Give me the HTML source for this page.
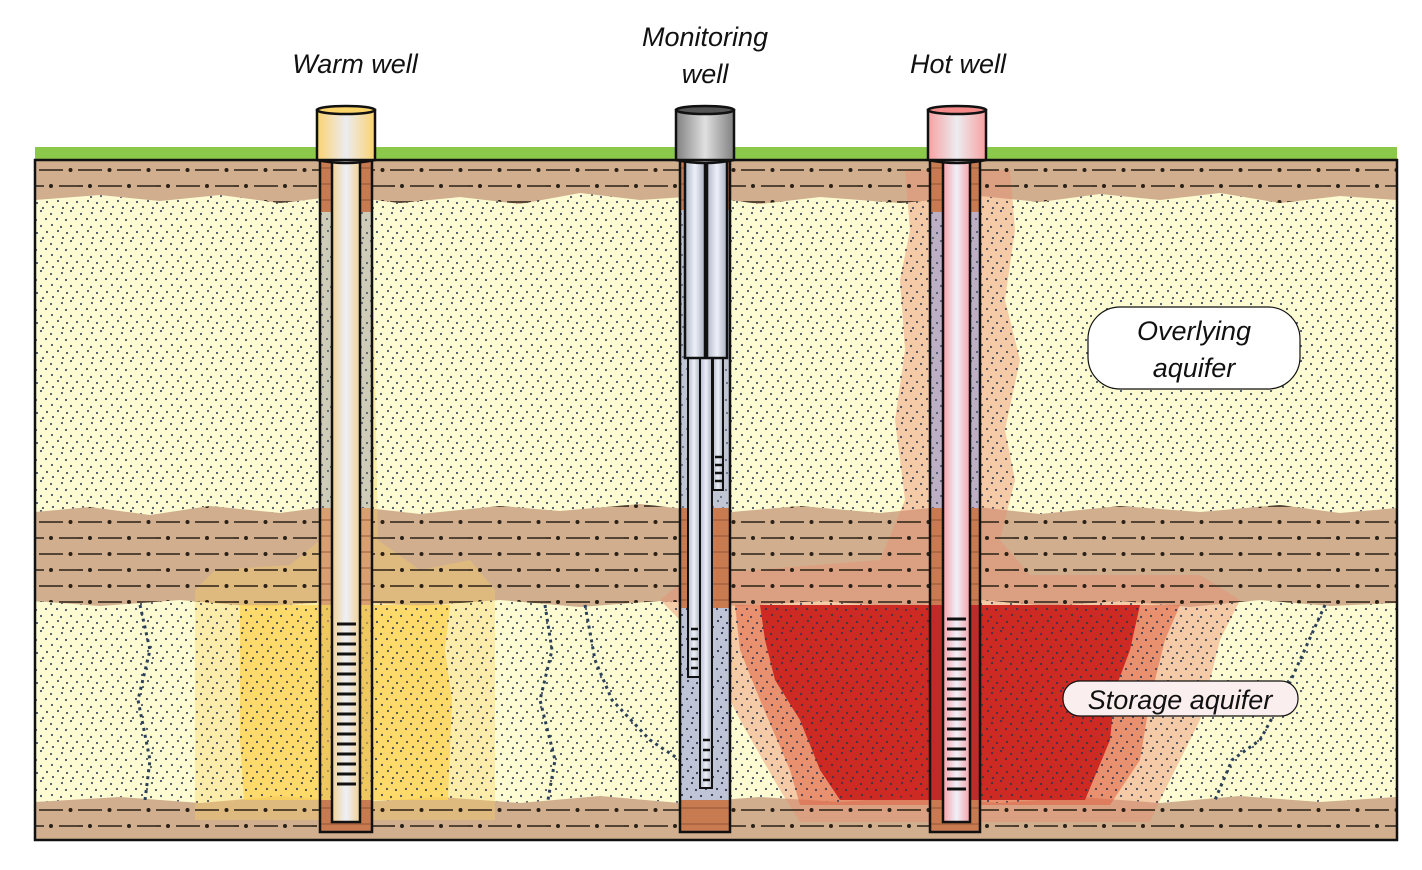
<!DOCTYPE html>
<html><head><meta charset="utf-8"><style>
html,body{margin:0;padding:0;background:#fff;}
svg{display:block;}
text{font-family:"Liberation Sans",sans-serif;font-style:italic;fill:#111;}
</style></head><body>
<svg width="1422" height="870" viewBox="0 0 1422 870" xmlns="http://www.w3.org/2000/svg">
<defs>
<pattern id="dots" width="30" height="30" patternUnits="userSpaceOnUse">
<g fill="#2a3550">
<circle cx="2" cy="3" r="1.1"/><circle cx="11" cy="1" r="1.1"/><circle cx="21" cy="4" r="1.1"/><circle cx="27" cy="9" r="1.1"/>
<circle cx="6" cy="10" r="1.1"/><circle cx="16" cy="9" r="1.1"/><circle cx="1" cy="17" r="1.1"/><circle cx="11" cy="16" r="1.1"/>
<circle cx="22" cy="15" r="1.1"/><circle cx="28" cy="21" r="1.1"/><circle cx="7" cy="23" r="1.1"/><circle cx="17" cy="22" r="1.1"/>
<circle cx="3" cy="28" r="1.1"/><circle cx="13" cy="28" r="1.1"/><circle cx="23" cy="27" r="1.1"/>
</g>
</pattern>
<pattern id="clay" width="78" height="32" patternUnits="userSpaceOnUse">
<g stroke="#2a2016" stroke-width="1.6">
<line x1="0" y1="10" x2="24" y2="10"/><line x1="39" y1="10" x2="63" y2="10"/>
<line x1="20" y1="26" x2="44" y2="26"/><line x1="59" y1="26" x2="78" y2="26"/><line x1="0" y1="26" x2="5" y2="26"/>
</g>
<g fill="#2a2016"><circle cx="31.5" cy="10" r="2"/><circle cx="70.5" cy="10" r="2"/><circle cx="12" cy="26" r="2"/><circle cx="51" cy="26" r="2"/></g>
</pattern>
<pattern id="bore" width="50" height="16" patternUnits="userSpaceOnUse">
<line x1="0" y1="8" x2="50" y2="8" stroke="#7a4a2a" stroke-width="0.8"/>
</pattern>
<linearGradient id="pipeW" x1="0" x2="1"><stop offset="0" stop-color="#f0d090"/><stop offset="0.5" stop-color="#eef0f8"/><stop offset="1" stop-color="#f0d090"/></linearGradient>
<linearGradient id="capW" x1="0" x2="1"><stop offset="0" stop-color="#fbd270"/><stop offset="0.5" stop-color="#ececf0"/><stop offset="1" stop-color="#fbd270"/></linearGradient>
<linearGradient id="pipeH" x1="0" x2="1"><stop offset="0" stop-color="#f5a0a8"/><stop offset="0.5" stop-color="#f0f0f8"/><stop offset="1" stop-color="#f5a0a8"/></linearGradient>
<linearGradient id="capH" x1="0" x2="1"><stop offset="0" stop-color="#f8a0a0"/><stop offset="0.5" stop-color="#ececf0"/><stop offset="1" stop-color="#f8a0a0"/></linearGradient>
<linearGradient id="pipeM" x1="0" x2="1"><stop offset="0" stop-color="#b0b8c8"/><stop offset="0.5" stop-color="#eef0f8"/><stop offset="1" stop-color="#a8b0c0"/></linearGradient>
<linearGradient id="capM" x1="0" x2="1"><stop offset="0" stop-color="#808080"/><stop offset="0.5" stop-color="#e0e0e0"/><stop offset="1" stop-color="#808080"/></linearGradient>
<path id="c1" d="M35 160 H1397 V200 L1340 196 1280 203 1220 193 1160 200 1100 194 1040 202 980 196 900 203 820 197 760 204 700 196 640 200 580 193 520 204 460 197 400 203 340 196 280 203 220 195 160 201 100 195 35 200 Z"/>
<path id="c2" d="M35 512 L90 507 150 515 210 506 280 513 340 505 420 514 500 506 560 511 640 504 720 513 800 506 880 513 960 505 1040 514 1120 506 1200 512 1280 505 1340 513 1397 508 V603 L1330 606 1260 600 1190 607 1120 601 1050 606 980 600 900 607 820 601 740 606 660 601 580 607 500 600 420 606 340 601 260 607 180 600 100 606 35 601 Z"/>
<path id="c3" d="M35 802 L120 797 200 803 280 796 360 802 440 797 520 803 600 796 680 803 760 797 840 802 920 796 1000 803 1080 797 1160 803 1240 796 1320 802 1397 797 V840 H35 Z"/>
<mask id="sandM"><rect x="0" y="0" width="1422" height="870" fill="#fff"/><use href="#c1" fill="#000"/><use href="#c2" fill="#000"/><use href="#c3" fill="#000"/></mask>
<mask id="clayM"><rect x="0" y="0" width="1422" height="870" fill="#000"/><use href="#c1" fill="#fff"/><use href="#c2" fill="#fff"/><use href="#c3" fill="#fff"/></mask>
</defs>

<rect x="35" y="147" width="1362" height="13" fill="#8cc84a"/>
<rect x="35" y="160" width="1362" height="680" fill="#fdfbd2"/>
<use href="#c1" fill="#d0ae8e"/><use href="#c2" fill="#d0ae8e"/><use href="#c3" fill="#d0ae8e"/>

<path d="M195 590 L215 570 290 565 320 540 322 200 372 200 378 540 420 570 470 560 495 590 495 820 195 820 Z" fill="#f8d060" opacity="0.35"/>
<path d="M240 605 L450 605 445 650 452 700 448 800 244 800 240 740 Z" fill="#fdd65a" opacity="0.8"/>

<path d="M905 170 L1010 170 1015 230 1005 300 1020 360 1005 430 1015 480 1000 540 1030 575 1200 575 1240 600 1220 640 1200 720 1160 800 1150 822 800 822 780 790 740 720 700 640 660 600 690 575 880 560 905 500 895 420 905 350 900 280 910 230 Z" fill="#e89070" opacity="0.45"/>
<path d="M735 605 L1180 605 1165 640 1150 700 1140 760 1110 805 800 805 790 770 760 700 740 650 Z" fill="#e06040" opacity="0.55"/>
<path d="M760 605 L1140 605 1130 650 1115 690 1110 740 1085 800 840 800 820 770 800 720 775 680 765 640 Z" fill="#cc2a22"/>

<rect x="35" y="160" width="1362" height="680" fill="url(#dots)" opacity="0.85" mask="url(#sandM)"/>
<g mask="url(#clayM)"><rect x="35" y="160" width="1362" height="680" fill="url(#clay)"/></g>

<g fill="none" stroke="#2c4058" stroke-width="3" stroke-dasharray="3 4">
<path d="M140 605 L150 650 138 700 150 760 145 800"/>
<path d="M545 605 L552 650 540 700 555 760 548 800"/>
<path d="M585 605 L595 660 612 700 650 740 680 760"/>
<path d="M1325 605 L1300 660 1282 700 1260 740 1232 760 1215 800"/>
</g>

<!-- WARM WELL -->
<rect x="320" y="160" width="52" height="672" fill="#c87a50"/>
<rect x="320" y="212" width="52" height="296" fill="#cfcdb8"/>
<rect x="320" y="212" width="52" height="296" fill="url(#dots)" opacity="0.7"/>
<rect x="320" y="508" width="52" height="97" fill="#d8a070"/>
<rect x="320" y="605" width="52" height="195" fill="#f0c860"/>
<rect x="320" y="605" width="52" height="195" fill="url(#dots)" opacity="0.4"/>
<rect x="320" y="160" width="52" height="52" fill="url(#bore)"/>
<rect x="320" y="508" width="52" height="97" fill="url(#bore)"/>
<rect x="320" y="800" width="52" height="32" fill="url(#bore)"/>
<rect x="320" y="160" width="52" height="672" fill="none" stroke="#111" stroke-width="2.5"/>
<rect x="332" y="160" width="28" height="662" fill="url(#pipeW)" stroke="#111" stroke-width="2.5"/>
<g stroke="#111" stroke-width="3">
<line x1="337" x2="356" y1="624" y2="624"/><line x1="337" x2="356" y1="634" y2="634"/><line x1="337" x2="356" y1="644" y2="644"/><line x1="337" x2="356" y1="654" y2="654"/><line x1="337" x2="356" y1="664" y2="664"/><line x1="337" x2="356" y1="674" y2="674"/><line x1="337" x2="356" y1="684" y2="684"/><line x1="337" x2="356" y1="694" y2="694"/><line x1="337" x2="356" y1="704" y2="704"/><line x1="337" x2="356" y1="714" y2="714"/><line x1="337" x2="356" y1="724" y2="724"/><line x1="337" x2="356" y1="734" y2="734"/><line x1="337" x2="356" y1="744" y2="744"/><line x1="337" x2="356" y1="754" y2="754"/><line x1="337" x2="356" y1="764" y2="764"/><line x1="337" x2="356" y1="774" y2="774"/><line x1="337" x2="356" y1="784" y2="784"/>
</g>
<path d="M317 110 V160 Q346 166 375 160 V110 Z" fill="url(#capW)" stroke="#111" stroke-width="2.5"/>
<ellipse cx="346" cy="110" rx="29" ry="4" fill="#fbd46a" stroke="#111" stroke-width="2.5"/>

<!-- MONITORING WELL -->
<rect x="680" y="160" width="50" height="672" fill="#c87a50"/>
<rect x="680" y="210" width="50" height="298" fill="#c0c6d4"/>
<rect x="680" y="608" width="50" height="192" fill="#bfc4d6"/>
<rect x="680" y="608" width="50" height="192" fill="url(#dots)"/>
<rect x="680" y="210" width="50" height="298" fill="url(#dots)" opacity="0.6"/>
<rect x="680" y="160" width="50" height="50" fill="url(#bore)"/>
<rect x="680" y="508" width="50" height="100" fill="url(#bore)"/>
<rect x="680" y="800" width="50" height="32" fill="url(#bore)"/>
<rect x="680" y="160" width="50" height="672" fill="none" stroke="#111" stroke-width="2.5"/>
<rect x="688" y="355" width="12" height="322" fill="url(#pipeM)" stroke="#111" stroke-width="2"/>
<rect x="700" y="355" width="12" height="433" fill="url(#pipeM)" stroke="#111" stroke-width="2"/>
<rect x="713" y="355" width="10" height="135" fill="url(#pipeM)" stroke="#111" stroke-width="2"/>
<rect x="685" y="160" width="20" height="198" fill="url(#pipeM)" stroke="#111" stroke-width="2.5"/>
<rect x="707" y="160" width="20" height="198" fill="url(#pipeM)" stroke="#111" stroke-width="2.5"/>
<g stroke="#111" stroke-width="2.5">
<line x1="715" x2="722" y1="457" y2="457"/><line x1="715" x2="722" y1="465" y2="465"/><line x1="715" x2="722" y1="473" y2="473"/><line x1="715" x2="722" y1="481" y2="481"/>
<line x1="691" x2="698" y1="629" y2="629"/><line x1="691" x2="698" y1="639" y2="639"/><line x1="691" x2="698" y1="649" y2="649"/><line x1="691" x2="698" y1="659" y2="659"/><line x1="691" x2="698" y1="668" y2="668"/>
<line x1="703" x2="710" y1="740" y2="740"/><line x1="703" x2="710" y1="750" y2="750"/><line x1="703" x2="710" y1="760" y2="760"/><line x1="703" x2="710" y1="770" y2="770"/><line x1="703" x2="710" y1="780" y2="780"/>
</g>
<path d="M676 110 V160 Q705 166 734 160 V110 Z" fill="url(#capM)" stroke="#111" stroke-width="2.5"/>
<ellipse cx="705" cy="110" rx="29" ry="4" fill="#555" stroke="#111" stroke-width="2.5"/>

<!-- HOT WELL -->
<rect x="930" y="160" width="50" height="672" fill="#c87a50"/>
<rect x="930" y="212" width="50" height="296" fill="#bdb0c4"/>
<rect x="930" y="212" width="50" height="296" fill="url(#dots)" opacity="0.7"/>
<rect x="930" y="605" width="50" height="195" fill="#c02a28"/>
<rect x="930" y="160" width="50" height="52" fill="url(#bore)"/>
<rect x="930" y="508" width="50" height="97" fill="url(#bore)"/>
<rect x="930" y="800" width="50" height="32" fill="url(#bore)"/>
<rect x="930" y="160" width="50" height="672" fill="none" stroke="#111" stroke-width="2.5"/>
<rect x="943" y="160" width="27" height="662" fill="url(#pipeH)" stroke="#111" stroke-width="2.5"/>
<g stroke="#111" stroke-width="3">
<line x1="947" x2="966" y1="619" y2="619"/><line x1="947" x2="966" y1="629" y2="629"/><line x1="947" x2="966" y1="639" y2="639"/><line x1="947" x2="966" y1="649" y2="649"/><line x1="947" x2="966" y1="659" y2="659"/><line x1="947" x2="966" y1="669" y2="669"/><line x1="947" x2="966" y1="679" y2="679"/><line x1="947" x2="966" y1="689" y2="689"/><line x1="947" x2="966" y1="699" y2="699"/><line x1="947" x2="966" y1="709" y2="709"/><line x1="947" x2="966" y1="719" y2="719"/><line x1="947" x2="966" y1="729" y2="729"/><line x1="947" x2="966" y1="739" y2="739"/><line x1="947" x2="966" y1="749" y2="749"/><line x1="947" x2="966" y1="759" y2="759"/><line x1="947" x2="966" y1="769" y2="769"/><line x1="947" x2="966" y1="779" y2="779"/><line x1="947" x2="966" y1="789" y2="789"/>
</g>
<path d="M928 110 V160 Q957 166 986 160 V110 Z" fill="url(#capH)" stroke="#111" stroke-width="2.5"/>
<ellipse cx="957" cy="110" rx="29" ry="4" fill="#f58a8a" stroke="#111" stroke-width="2.5"/>

<rect x="35" y="160" width="1362" height="680" fill="none" stroke="#111" stroke-width="2.5"/>

<text x="355" y="73" font-size="27" text-anchor="middle">Warm well</text>
<text x="705" y="46" font-size="27" text-anchor="middle">Monitoring</text>
<text x="705" y="83" font-size="27" text-anchor="middle">well</text>
<text x="958" y="73" font-size="27" text-anchor="middle">Hot well</text>
<rect x="1088" y="307" width="212" height="82" rx="32" fill="#fff" stroke="#111" stroke-width="1.2"/>
<text x="1194" y="340" font-size="27" text-anchor="middle">Overlying</text>
<text x="1194" y="377" font-size="27" text-anchor="middle">aquifer</text>
<rect x="1063" y="681" width="235" height="35" rx="17" fill="#fbeeee" stroke="#111" stroke-width="1.2"/>
<text x="1180" y="709" font-size="27" text-anchor="middle">Storage aquifer</text>
</svg>
</body></html>
